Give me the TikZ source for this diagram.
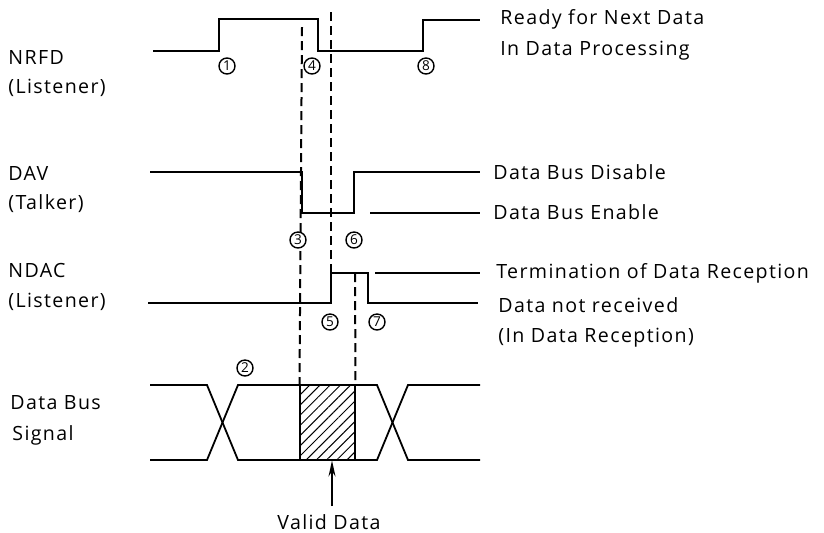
\documentclass[tikz,border=0pt]{standalone}
\usepackage{fontspec}
\setmainfont{Open Sans}[LetterSpace=7]
\usetikzlibrary{positioning,calc,arrows.meta,patterns.meta}
\tikzset{
  sig/.style   = {line width=0.9pt},
  guide/.style = {line width=1pt, dash pattern=on 4.5pt off 2.5pt},
  hatch/.style = {pattern={Lines[angle=45,distance=3.6pt,line width=0.5pt]}},
  lbl/.style   = {inner sep=0pt, anchor=west, font=\fontsize{9.8}{11}\selectfont},
  num/.style   = {circle, draw, fill=white, line width=0.7pt, inner sep=0pt,
                  minimum size=8pt, font=\fontsize{6.8}{7}\selectfont},
  >={Stealth[length=8pt,width=3.5pt]}
}
\newcommand{\StepNum}[3]{%
  % circled step number
  \node[num] (#1) at #2 {#3};
}

\begin{document}
\begin{tikzpicture}[x=0.5pt,y=-0.5pt]
    \useasboundingbox (0,0) rectangle (824,532);

    % signal names
    \node[lbl] (nrfd)   at (8,57)   {NRFD};
    \node[lbl] (nrfdl)  at (8,88)   {(Listener)};
    \node[lbl] (dav)    at (8,173)  {DAV};
    \node[lbl] (davt)   at (8,204)  {(Talker)};
    \node[lbl] (ndac)   at (8,270)  {NDAC};
    \node[lbl] (ndacl)  at (8,302)  {(Listener)};
    \node[lbl] (bus)    at (10,403) {Data Bus};
    \node[lbl] (busl)   at (12,435) {Signal};

    % state names
    \node[lbl] (ready)  at (500,19)  {Ready for Next Data};
    \node[lbl] (proc)   at (500,51)  {In Data Processing};
    \node[lbl] (dis)    at (493,172) {Data Bus Disable};
    \node[lbl] (ena)    at (493,212) {Data Bus Enable};
    \node[lbl] (term)   at (496,273) {Termination of Data Reception};
    \node[lbl] (nrecv)  at (498,305) {Data not received};
    \node[lbl] (inrecv) at (498,338) {(In Data Reception)};

    % NRFD
    \draw[sig] (153,51) -- (219,51) -- (219,19) -- (318,19) -- (318,51)
               -- (423,51) -- (423,20) -- (480,20);
    % DAV
    \draw[sig] (150,172) -- (302,172) -- (302,213) -- (354,213) -- (354,172)
               -- (480,172);
    \draw[sig] (370,213) -- (480,213);
    % NDAC
    \draw[sig] (148,303) -- (331,303) -- (331,273) -- (368,273) -- (368,303)
               -- (478,303);
    \draw[sig] (375,273) -- (480,273);
    % data bus
    \node[draw, sig, hatch, minimum width=27.5pt,
          minimum height=37.5pt, inner sep=0pt] (valid) at (327.5,422.5) {};
    \draw[sig] (150,385) -- (207,385) -- (238,460) -- (377,460) -- (408,385)
               -- (480,385);
    \draw[sig] (150,460) -- (207,460) -- (238,385) -- (377,385) -- (408,460)
               -- (480,460);

    % timing guides
    \draw[guide] (302,27) -- (valid.north west);
    \draw[guide] (331,12) -- (331,273);
    \draw[guide] (355,273) -- (valid.north east);

    % step numbers
    \StepNum{s1}{(227,66)}{1}
    \StepNum{s2}{(245,368)}{2}
    \StepNum{s3}{(298,240)}{3}
    \StepNum{s4}{(312,66)}{4}
    \StepNum{s5}{(330,322)}{5}
    \StepNum{s6}{(354,240)}{6}
    \StepNum{s7}{(377,322)}{7}
    \StepNum{s8}{(426,66)}{8}

    % valid data marker
    \node[lbl, anchor=center] (vd) at (329,522) {Valid Data};
    \draw[->, line width=0.8pt] ([xshift=1.5pt,yshift=4pt]vd.north)
          -- ([xshift=1.5pt]vd.north |- valid.south);
  \end{tikzpicture}
\end{document}
